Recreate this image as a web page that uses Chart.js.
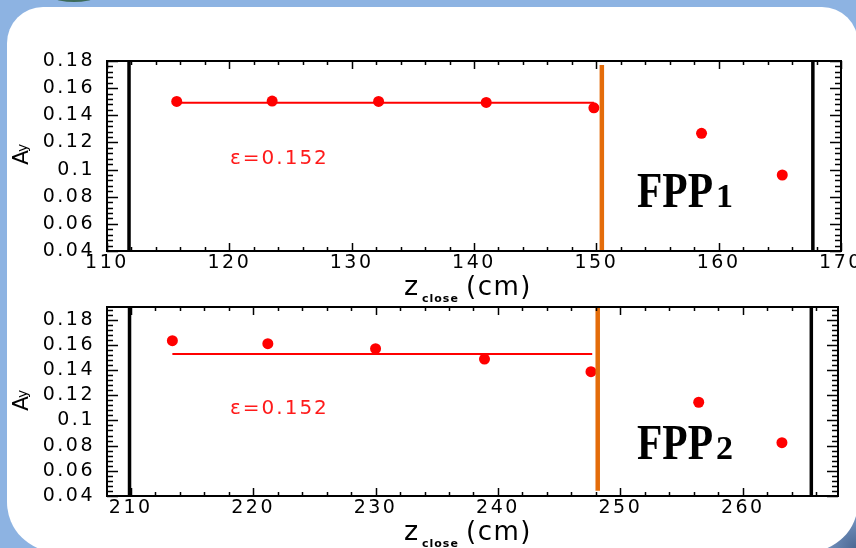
<!DOCTYPE html>
<html><head><meta charset="utf-8">
<script src="https://cdn.jsdelivr.net/npm/chart.js@4.4.1/dist/chart.umd.min.js"></script>
<style>
html,body{margin:0;padding:0;}
body{width:856px;height:548px;overflow:hidden;position:relative;background:#8db3e2;}
#bg{position:absolute;left:0;top:0;width:856px;height:548px;background:radial-gradient(circle at 100% 100%, #4b6893 0px, #7d9dca 38px, rgba(141,179,226,0) 80px);}
#logo{position:absolute;left:55px;top:-6px;width:38px;height:8px;border-radius:50%;background:#3d6b5a;}
#card{position:absolute;left:7px;top:7px;width:851px;height:545px;background:#fff;border-radius:36px 36px 50px 50px;}
canvas{position:absolute;left:0;}
#c1{top:0px;}
#c2{top:290px;}
</style></head><body>
<div id="bg"></div><div id="logo"></div><div id="card"></div>
<canvas id="c1" width="856" height="310" style="width:856px;height:310px"></canvas>
<canvas id="c2" width="856" height="258" style="width:856px;height:258px"></canvas>
<script>
// ---- data ----
const topZ  = [115.7, 123.5, 132.2, 141.0, 149.8, 158.6, 165.2];
const topAy = [0.1502, 0.1505, 0.1502, 0.1495, 0.1455, 0.1267, 0.0960];
const topFitZ = [115.7, 149.8];
const topFitAy = 0.1493;
const topBlackCuts = [111.8, 167.7];
const topOrangeCut = 150.45;

const botZ  = [213.4, 221.2, 230.0, 238.9, 247.6, 256.4, 263.2];
const botAy = [0.1633, 0.1609, 0.1569, 0.1487, 0.1387, 0.1144, 0.0823];
const botFitZ = [213.4, 247.7];
const botFitAy = 0.1527;
const botBlackCuts = [209.9, 265.6];
const botOrangeCut = 248.15;

const topXTicks = [110, 120, 130, 140, 150, 160, 170];
const botXTicks = [210, 220, 230, 240, 250, 260];
const yTicks = [0.04, 0.06, 0.08, 0.10, 0.12, 0.14, 0.16, 0.18];
const yTickLabels = ['0.04', '0.06', '0.08', '0.1', '0.12', '0.14', '0.16', '0.18'];

const epsText = 'ε=0.152';
const xTitleMain = 'z', xTitleSub = 'close', xTitleUnit = '(cm)';
const yTitleMain = 'A', yTitleSub = 'y';

function makeChart(id, c) {
  const RED = '#ff0000', ORANGE = '#e46c0a';
  const datasets = [
    { data: [{x: c.orange, y: c.orangeY[0]}, {x: c.orange, y: c.orangeY[1]}], showLine: true, borderColor: ORANGE, borderWidth: 4.5, pointRadius: 0 },
    { data: [{x: c.black[0], y: c.yMin}, {x: c.black[0], y: c.yMax}], showLine: true, borderColor: '#000', borderWidth: 3.5, pointRadius: 0 },
    { data: [{x: c.black[1], y: c.yMin}, {x: c.black[1], y: c.yMax}], showLine: true, borderColor: '#000', borderWidth: 3.5, pointRadius: 0 },
    { data: c.z.map((v, i) => ({x: v, y: c.ay[i]})), showLine: false, pointRadius: 5.5, pointBackgroundColor: RED, pointBorderWidth: 0, pointBorderColor: RED },
    { data: [{x: c.fitZ[0], y: c.fitAy}, {x: c.fitZ[1], y: c.fitAy}], showLine: true, borderColor: RED, borderWidth: 2, pointRadius: 0 }
  ];
  const plugin = {
    id: 'frame' + id,
    beforeDraw(chart) { chart.ctx.letterSpacing = '2.5px'; },
    afterDraw(chart) {
      const ctx = chart.ctx, a = chart.chartArea, x = chart.scales.x, y = chart.scales.y;
      ctx.save();
      ctx.letterSpacing = '0px';
      ctx.strokeStyle = '#000';
      ctx.lineWidth = 2;
      ctx.strokeRect(a.left, a.top, a.right - a.left, a.bottom - a.top);
      ctx.lineWidth = 1.5;
      ctx.beginPath();
      for (let v = Math.ceil(x.min / 2) * 2; v <= x.max + 1e-9; v += 2) {
        const px = Math.round(x.getPixelForValue(v)) + 0.5;
        const major = Math.abs(v / 10 - Math.round(v / 10)) < 1e-6;
        const L = major ? 8 : 4;
        ctx.moveTo(px, a.bottom); ctx.lineTo(px, a.bottom - L);
        ctx.moveTo(px, a.top); ctx.lineTo(px, a.top + L);
      }
      for (let k = 0; ; k++) {
        const v = 0.04 + k * 0.004;
        if (v > y.max + 1e-9) break;
        const py = Math.round(y.getPixelForValue(v)) + 0.5;
        const major = k % 5 === 0;
        const L = major ? 11 : 6;
        ctx.moveTo(a.left, py); ctx.lineTo(a.left + L, py);
        ctx.moveTo(a.right, py); ctx.lineTo(a.right - L, py);
      }
      ctx.stroke();

      // x title
      ctx.fillStyle = '#000';
      ctx.textAlign = 'left'; ctx.textBaseline = 'alphabetic';
      const tb = a.bottom + 44;
      ctx.letterSpacing = '0px';
      ctx.font = '27px "DejaVu Sans"';
      ctx.fillText(xTitleMain, 404, tb);
      ctx.font = 'bold 11px "DejaVu Sans"';
      ctx.letterSpacing = '1px';
      ctx.fillText(xTitleSub, 422, tb + 7);
      ctx.letterSpacing = '1.5px';
      ctx.font = '26px "DejaVu Sans"';
      ctx.fillText(xTitleUnit, 466, tb);

      // y title (rotated)
      ctx.save();
      ctx.letterSpacing = '0px';
      ctx.translate(28, a.top + 104);
      ctx.rotate(-Math.PI / 2);
      ctx.font = '22px "DejaVu Sans"';
      ctx.fillText(yTitleMain, 0, 0);
      const wA = ctx.measureText(yTitleMain).width;
      ctx.font = '14px "DejaVu Sans"';
      ctx.fillText(yTitleSub, wA - 2, -1);
      ctx.restore();

      // epsilon
      ctx.fillStyle = '#ff1a1a';
      ctx.letterSpacing = '2px';
      ctx.font = '20px "DejaVu Sans"';
      ctx.fillText(epsText, 230, a.top + c.epsDy);

      // FPP label
      ctx.letterSpacing = '0px';
      ctx.fillStyle = '#000';
      ctx.save();
      ctx.translate(637, a.top + c.fppDy);
      ctx.font = 'bold 50px "Liberation Serif"';
      const wF = ctx.measureText('FPP').width;
      ctx.scale(76 / wF, 1);
      ctx.fillText('FPP', 0, 0);
      ctx.restore();
      ctx.font = 'bold 34px "Liberation Serif"';
      ctx.fillText(c.digit, 716, a.top + c.fppDy);
      ctx.restore();
    }
  };
  return new Chart(document.getElementById(id), {
    type: 'scatter',
    data: { datasets },
    options: {
      responsive: false, animation: false, devicePixelRatio: 1,
      layout: { padding: { left: 0, right: c.padRight, top: c.padTop, bottom: 0 } },
      plugins: { legend: { display: false }, tooltip: { enabled: false } },
      scales: {
        x: {
          type: 'linear', min: c.xMin, max: c.xMax,
          grid: { display: false, drawTicks: false }, border: { display: false },
          afterBuildTicks: s => { s.ticks = c.xTicks.map(v => ({ value: v })); },
          afterFit: s => { s.height = c.xAxisH; s.paddingLeft = 0; s.paddingRight = 0; },
          ticks: { padding: 1, color: '#000', maxRotation: 0, autoSkip: false,
                   font: { family: 'DejaVu Sans', size: 19 },
                   callback: (v) => String(v) }
        },
        y: {
          type: 'linear', min: c.yMin, max: c.yMax,
          grid: { display: false, drawTicks: false }, border: { display: false },
          afterBuildTicks: s => { s.ticks = yTicks.map(v => ({ value: v })); },
          afterFit: s => { s.width = 107; s.paddingTop = 0; s.paddingBottom = 0; },
          ticks: { padding: 12, color: '#000', autoSkip: false,
                   font: { family: 'DejaVu Sans', size: 19 },
                   callback: (v, i) => yTickLabels[i] }
        }
      }
    },
    plugins: [plugin]
  });
}

makeChart('c1', {
  z: topZ, ay: topAy, fitZ: topFitZ, fitAy: topFitAy, black: topBlackCuts,
  orange: topOrangeCut, orangeY: [0.04, 0.177],
  xMin: 110, xMax: 170, yMin: 0.04, yMax: 0.18, xTicks: topXTicks,
  padTop: 61, padRight: 15, xAxisH: 59, epsDy: 103, fppDy: 146, digit: '1'
});
makeChart('c2', {
  z: botZ, ay: botAy, fitZ: botFitZ, fitAy: botFitAy, black: botBlackCuts,
  orange: botOrangeCut, orangeY: [0.0442, 0.19],
  xMin: 208.06, xMax: 267.78, yMin: 0.04, yMax: 0.19, xTicks: botXTicks,
  padTop: 17, padRight: 18, xAxisH: 52, epsDy: 107, fppDy: 152, digit: '2'
});
</script>
</body></html>
